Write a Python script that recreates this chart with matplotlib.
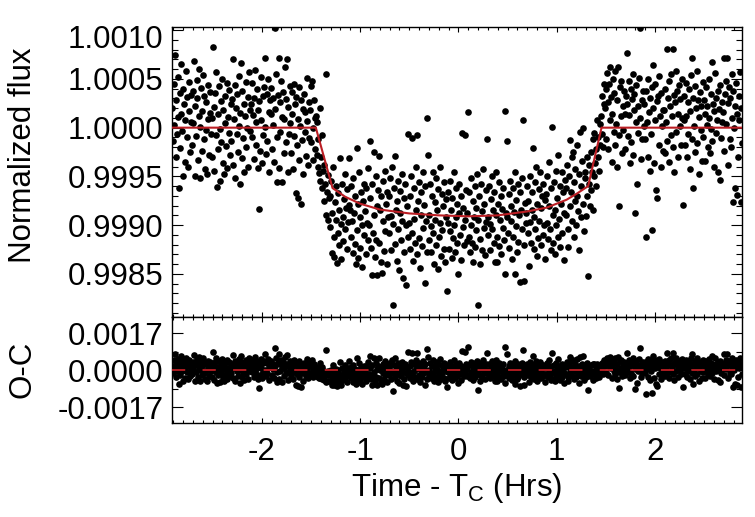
import numpy as np
import matplotlib
matplotlib.use("Agg")
import matplotlib.pyplot as plt
from matplotlib.ticker import MultipleLocator, FixedLocator, FormatStrFormatter
from matplotlib.transforms import ScaledTranslation

plt.rcParams['font.family'] = ['Liberation Sans', 'DejaVu Sans']
plt.rcParams['mathtext.fontset'] = 'custom'
plt.rcParams['mathtext.rm'] = 'Liberation Sans'
plt.rcParams['lines.scale_dashes'] = False
plt.rcParams['axes.unicode_minus'] = False

# ---- data: observation window (hours from mid-transit), uniform cadence ----
T_START = -2.91
T_END = 2.885

# flux offsets from 1.0 in units of 1e-5, in time order (30 points per 0.2 hr)
flux_pre = [
    20, -14, 45, 3, 75, -30, 28, -6, 52, 11, -62, 36, -21, 14, 65, -3, 40, -50, 24, 8, -35, 58, -10, 31, -40, 17, 47, -25, 6, 34,
    -18, 38, 5, 68, -50, 22, -9, 49, 30, -33, 12, 60, -52, 1, 41, -24, 17, 54, -12, 33, -42, -2, 26, -48, 44, 9, -28, 37, 15, -6,
    10, -30, 83, 21, -44, 36, -8, 57, -61, 14, -22, 43, -1, -55, 27, -15, 50, -36, 18, -48, 5, 32, -19, 46, -41, 11, -5, 39, -28, 24,
    -14, 29, 70, -38, 9, 44, -52, 20, -6, 35, -25, 53, 2, -58, 15, 66, -31, 38, -11, 24, -46, 12, 47, -20, 0, 31, -40, 57, -3, 18,
    24, -10, 46, 13, -32, 30, 59, -18, 6, 40, -41, 18, -83, 27, -24, 52, 8, -36, 33, -8, 42, 72, 1, -27, 35, -14, 50, -45, 16, 28,
    14, 41, -22, 30, 3, -35, 102, 19, 55, -56, -10, 34, 72, -41, 26, -4, 48, -56, 11, 37, -26, 9, 62, -15, 29, 70, -46, 21, -7, 43,
    5, -26, 37, 14, -42, 45, -9, 24, -67, 31, -18, 9, -72, 42, -33, 2, -78, 28, -13, 19, -48, 35, -4, 16, -29, 51, 7, -38, 26, -11,
]
flux_ingress = [
    18, -15, 43, 48, 0, -33, 28, 10, -22, 12, -28, 6, -40, -12, -47, 20, -55, -30, -62, -8, -44, -75, -38, -58, -90, 55, -66, -49, -95, -72,
    -70, -102, -55, -129, -88, -40, -112, -133, -76, -95, -60, -139, -108, -67, -120, -85, -31, -99, -135, -58, -92, -116, -73, -48, -104, -82, -125, -63, -97, -79,
    -31, -84, -112, -60, -96, -129, -52, -88, -119, -70, -140, -21, -105, -78, -134, -45, -92, -123, -66, -100, -143, -75, -58, -110, -86, -130, -62, -98, -41, -115,
    -100, -14, -72, -124, -151, -58, -108, -25, -90, -133, -50, -115, -80, -151, -64, -29, -118, -85, -138, -70, -149, -55, -96, -127, -44, -106, -78, -140, -66, -92,
]
flux_middle = [
    -70, -108, -52, -126, -91, -40, -182, -99, -62, -119, -29, -84, -137, -75, -104, -55, -146, -88, -65, -115, -48, -96, -154, -72, -128, -58, -100, -161, -80, -112,
    -6, -98, -70, -125, -50, -108, -11, -137, -62, -94, -118, -40, -84, -130, -8, -75, -113, -56, -144, -90, -66, -121, -45, -103, -79, -159, -60, -96, -128, 10,
    -28, -90, -115, -58, -101, -128, -70, -45, -108, -140, -76, -95, -120, -52, -85, -145, -63, -112, -40, -98, -132, -68, -105, -80, -125, -56, -138, -92, -73, -168,
    -98, -66, -125, -55, -106, -84, -134, -72, -113, -45, -100, -128, -62, -92, -118, -78, -150, -88, -58, -110, -136, -70, -5, -102, -82, -120, -8, -95, -64, -116,
    -88, 16, -112, -66, -128, -52, -100, -118, -75, -138, -92, -60, -122, -82, -105, -48, -182, -95, -70, -114, -140, -58, -86, -126, -42, -103, -78, -131, -64, -97,
    -12, -92, -110, -60, -99, -126, -73, -50, -104, -85, -118, -66, -138, -90, -45, -112, -138, -78, -56, -121, -95, -70, -130, -83, -103, -62, -115, 17, -150, -88,
]
flux_egress = [
    -92, -14, -108, -68, -124, -55, -96, -80, -135, -62, -112, -87, -150, -46, -101, -74, -128, -58, -117, -90, -66, -158, -84, -104, -52, 8, -120, -157, -77, -98,
    -88, -60, -108, -75, -142, -50, -97, -118, -66, -84, -21, -125, -92, -56, -104, -40, -132, -78, -113, -63, -96, -45, -120, -82, -70, -110, -58, -100, -135, -74,
    -68, -98, -50, -114, -80, -35, -104, -126, -62, 1, -90, -118, -56, -85, -130, -44, -100, -72, -112, -28, -94, -60, -122, -78, -46, -108, -66, -88, -136, -54,
    -62, -90, -38, -104, -122, -50, -13, -80, -66, -30, -96, -25, -112, -56, -75, -42, -100, -18, -70, -86, -48, -126, -4, -60, -92, -34, 0, -78, -106, -46,
    -52, -91, -30, -70, -152, -58, -38, -80, -25, -64, -45, -12, -85, -50, -5, -36, -22, -60, 8, -30, -10, -44, 4, -18, 12, -6, 32, -20, 24, 45,
]
flux_post = [
    20, 40, -12, 56, 26, -22, 45, 8, 62, 31, -35, 14, 50, -4, 36, -18, 58, 4, -40, 28, 62, -8, -80, 42, 12, 48, -26, 22, -2, 38,
    14, -22, 33, 77, 24, -9, 48, 13, -36, 40, -15, 29, 55, -28, 18, 35, -88, 6, 44, -58, 22, -5, 51, 10, 102, -32, 28, -12, 38, 2,
    24, -12, -112, 38, 6, -30, 50, 16, -44, 30, -6, 42, -105, 64, 20, -36, 8, 45, -64, 27, -72, 33, -18, 53, 12, -40, 36, 2, -24, 18,
    18, -26, 40, 6, 81, -14, 30, 48, -35, 22, -8, 55, 12, 81, -20, 34, -45, 26, 58, -4, 38, 14, -30, 44, 2, 29, -18, 50, 10, -79,
    8, 33, -18, 46, 12, -30, 26, -6, 40, 17, -42, 54, 72, -12, -62, 30, 2, 43, -25, 20, 58, -16, 28, -48, 11, 37, -2, 22, -34, 47,
    -10, 28, 14, -34, 42, 3, 22, -20, 50, 10, -26, 35, -1, 67, -14, 24, -40, 17, 56, -5, 30, 8, -45, 38, 19, -54, 44, -11, 26, 6,
    16, 72, -24, 35, 4, 48, 72, -38, 25, 42, -12, 30, -20, 55, 10, -76, 38, 0, -62, 22, 46, -69, 14, -30, 33, 8, 57, -76, 20, -16,
]

# best-fit transit model (red curve)
model_t = [-2.91, -1.45, -1.28, -1.15, -1.0, -0.8, -0.5, -0.2, 0.1, 0.4, 0.7, 0.9, 1.1, 1.2, 1.32, 1.456, 2.885]
model_f = [1.0, 1.0, 0.99938, 0.99929, 0.99922, 0.99916, 0.99912, 0.99910, 0.99909,
           0.99910, 0.99914, 0.99918, 0.99926, 0.99932, 0.99940, 1.0, 1.0]

flux_ticks = [0.9985, 0.9990, 0.9995, 1.0000, 1.0005, 1.0010]
oc_ticks = [-0.0017, 0.0, 0.0017]
time_ticks = [-2, -1, 0, 1, 2]

# ---- derived ----
offsets = np.array(flux_pre + flux_ingress + flux_middle + flux_egress + flux_post, dtype=float)
flux = 1.0 + offsets * 1e-5
time = np.linspace(T_START, T_END, len(flux))
model_at_data = np.interp(time, model_t, model_f)
oc = flux - model_at_data

# ---- figure ----
W, H = 755, 517
fig = plt.figure(figsize=(W / 100, H / 100), dpi=100)
L, R = 172.3, 742.0
ax1 = fig.add_axes([L / W, 1 - 316.7 / H, (R - L) / W, (316.7 - 27.3) / H])
ax2 = fig.add_axes([L / W, 1 - 422.7 / H, (R - L) / W, (422.7 - 316.7) / H])

red = '#bb1e24'
dot = dict(s=23, c='black', linewidths=0, zorder=2)

ax1.scatter(time, flux, **dot)
ax1.plot(model_t, model_f, color=red, lw=1.5, zorder=3)
ax2.scatter(time, oc, **dot)
ax2.plot([T_START, T_END], [0, 0], color=red, lw=1.3, dashes=(9.5, 12.5), zorder=3)

FS_TICK = 22.5
FS_LAB = 22.5
for ax in (ax1, ax2):
    ax.set_xlim(-2.91, 2.885)
    ax.xaxis.set_major_locator(FixedLocator(time_ticks))
    ax.xaxis.set_minor_locator(MultipleLocator(0.1))
    ax.tick_params(which='both', direction='in', top=True, right=True, width=0.8, colors='black')
    for s in ax.spines.values():
        s.set_linewidth(1.0)

ax1.set_ylim(0.99806, 1.00103)
ax1.yaxis.set_major_locator(FixedLocator(flux_ticks))
ax1.yaxis.set_minor_locator(MultipleLocator(0.0001))
ax1.yaxis.set_major_formatter(FormatStrFormatter('%.4f'))
ax1.tick_params(axis='x', which='major', length=3.6, labelbottom=False)
ax1.tick_params(axis='x', which='minor', length=2.2)
ax1.tick_params(axis='y', which='major', length=7.9, labelsize=FS_TICK, pad=6.5)
ax1.tick_params(axis='y', which='minor', length=4.3)
ax1.set_ylabel('Normalized flux', fontsize=FS_LAB)
ax1.yaxis.set_label_coords(-0.236, 0.559)

ax2.set_ylim(-0.00242, 0.00246)
ax2.yaxis.set_major_locator(FixedLocator(oc_ticks))
ax2.yaxis.set_minor_locator(FixedLocator([-0.00085, 0.00085]))
ax2.yaxis.set_major_formatter(FormatStrFormatter('%.4f'))
ax2.tick_params(axis='x', which='major', length=3.6, labelsize=FS_TICK, pad=10)
ax2.tick_params(axis='x', which='minor', length=2.0)
ax2.tick_params(axis='y', which='major', length=7.9, labelsize=FS_TICK, pad=6.5)
ax2.tick_params(axis='y', which='minor', length=4.3)
ax2.set_ylabel('O-C', fontsize=FS_LAB)
ax2.yaxis.set_label_coords(-0.236, 0.5)
ax2.set_xlabel('Time - T$_\\mathrm{C}$ (Hrs)', fontsize=FS_LAB, labelpad=3)

# top tick label of the flux axis sits slightly lower, as in the original
fig.canvas.draw()
for tick in ax1.yaxis.get_major_ticks():
    if abs(tick.get_loc() - 1.0010) < 1e-9:
        lab = tick.label1
        lab.set_transform(lab.get_transform() + ScaledTranslation(0, -0.06, fig.dpi_scale_trans))

fig.savefig('out.png', dpi=100)
